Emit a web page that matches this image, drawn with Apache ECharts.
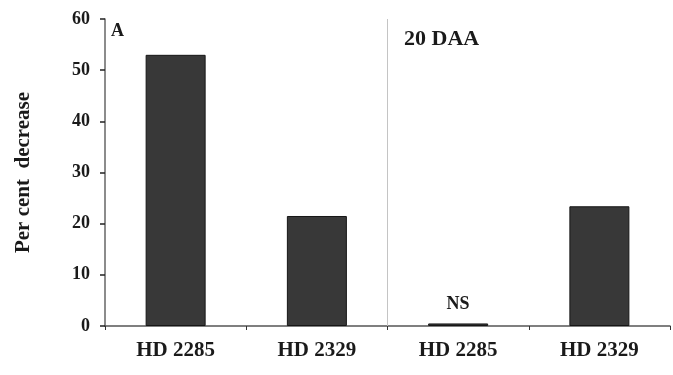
<!DOCTYPE html>
<html>
<head>
<meta charset="utf-8">
<script src="https://cdn.jsdelivr.net/npm/echarts@6/dist/echarts.min.js"></script>
<style>html,body{margin:0;padding:0;background:#fff}#c{width:673px;height:375px}</style>
</head>
<body>
<div id="c"></div>
<script>
const categories = ['HD 2285', 'HD 2329', 'HD 2285', 'HD 2329'];
const values = [53.0, 21.5, 0.5, 23.4];
const barLabels = ['', '', 'NS', ''];
const dividerAt = [2];          // boundary between the two panels (in category units)
const yTicks = { min: 0, max: 60, interval: 10 };
const yTitle = 'Per cent  decrease';

const font = 'Liberation Serif';
const chart = echarts.init(document.getElementById('c'), null, { renderer: 'canvas' });
chart.setOption({
  animation: false,
  backgroundColor: '#fff',
  grid: { left: 105, right: 3, top: 19, bottom: 49, containLabel: false },
  xAxis: [{
    type: 'category',
    data: categories,
    axisLine: { lineStyle: { color: '#555', width: 1.5 } },
    axisTick: { show: true, length: 4, lineStyle: { color: '#333' } },
    axisLabel: { color: '#1a1a1a', fontFamily: font, fontWeight: 'bold', fontSize: 21, margin: 14 },
    splitLine: { show: false }
  }, {
    type: 'value',
    min: 0, max: categories.length,
    show: false,
    splitLine: { show: false }
  }],
  yAxis: {
    type: 'value',
    min: yTicks.min, max: yTicks.max, interval: yTicks.interval,
    name: yTitle,
    nameLocation: 'middle',
    nameGap: 71,
    nameTextStyle: { color: '#1a1a1a', fontFamily: font, fontWeight: 'bold', fontSize: 21 },
    axisLine: { show: true, lineStyle: { color: '#666', width: 1.5 } },
    axisTick: { show: true, length: 5, lineStyle: { color: '#222', width: 1.5 } },
    axisLabel: { color: '#1a1a1a', fontFamily: font, fontWeight: 'bold', fontSize: 18, margin: 15 },
    splitLine: { show: false }
  },
  series: [{
    type: 'bar',
    data: values.map((v, i) => ({ value: v, label: { show: !!barLabels[i], formatter: barLabels[i] } })),
    barWidth: 60,
    itemStyle: { color: '#383838', borderColor: '#161616', borderWidth: 1 },
    label: { position: 'top', distance: 10, color: '#1a1a1a', fontFamily: font, fontWeight: 'bold', fontSize: 18 }
  }, {
    type: 'line',
    xAxisIndex: 1,
    data: [],
    silent: true,
    markLine: {
      silent: true,
      symbol: ['none', 'none'],
      label: { show: false },
      lineStyle: { color: '#c4c4c4', width: 1, type: 'solid' },
      data: dividerAt.map(x => ({ xAxis: x }))
    }
  }],
  graphic: [
    { type: 'text', left: 111, top: 22, style: { text: 'A', font: 'bold 18px "Liberation Serif"', fill: '#1a1a1a' } },
    { type: 'text', left: 404, top: 28, style: { text: '20 DAA', font: 'bold 22px "Liberation Serif"', fill: '#1a1a1a' } }
  ]
});
</script>
</body>
</html>
